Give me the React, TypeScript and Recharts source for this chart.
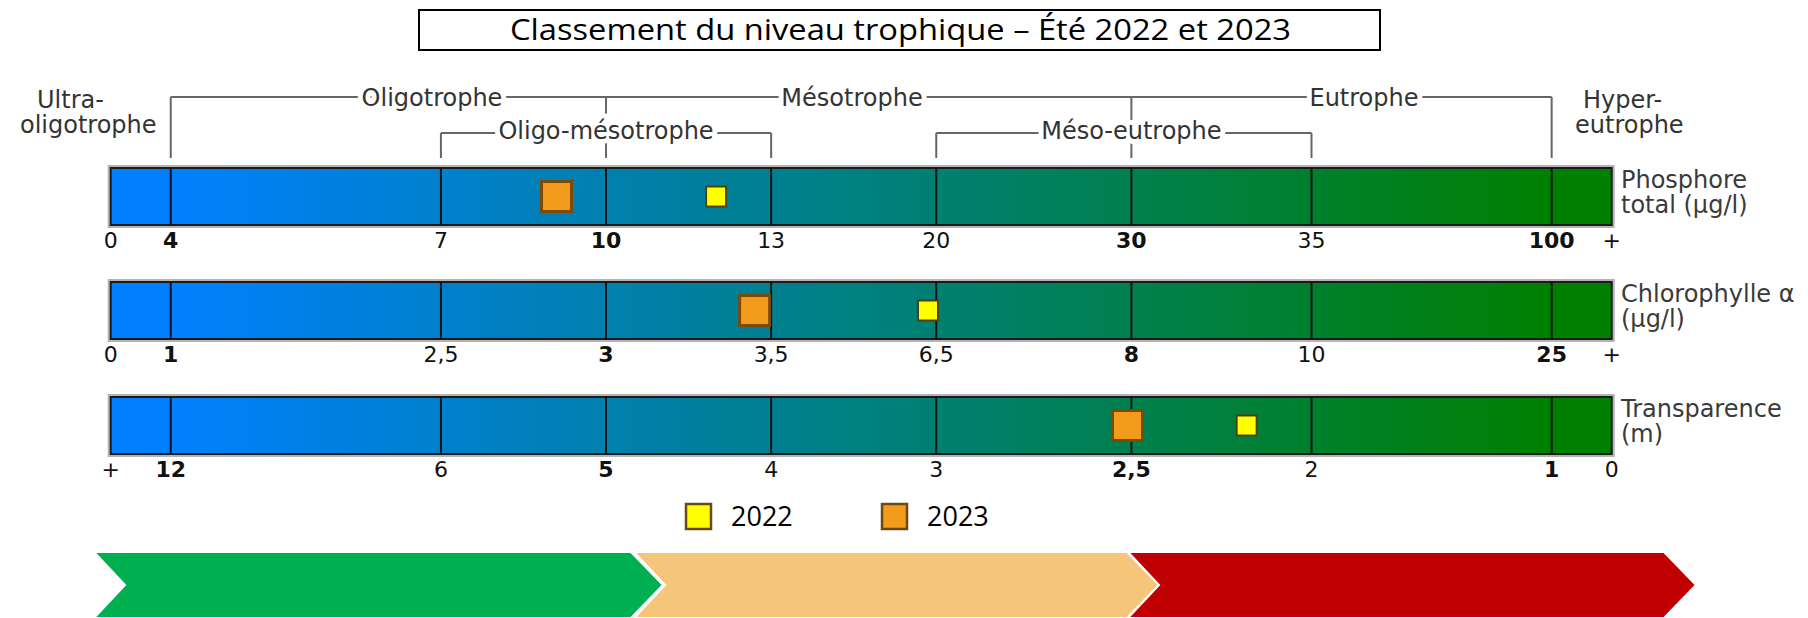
import { ScatterChart, Scatter, XAxis, YAxis, ReferenceArea, ReferenceLine } from 'recharts';

document.body.style.margin = '0';

// where each class limit sits along the bar (% of its length)
const classPos = [0, 4, 22, 33, 44, 55, 68, 80, 96, 100];

const rowTitles = [
  ['Phosphore', 'total (µg/l)'],
  ['Chlorophylle α', '(µg/l)'],
  ['Transparence', '(m)'],
];
const tickLabels = [
  ['0', '4', '7', '10', '13', '20', '30', '35', '100', '+'],
  ['0', '1', '2,5', '3', '3,5', '6,5', '8', '10', '25', '+'],
  ['+', '12', '6', '5', '4', '3', '2,5', '2', '1', '0'],
];
const limits = [
  [0, 4, 7, 10, 13, 20, 30, 35, 100, Infinity],
  [0, 1, 2.5, 3, 3.5, 6.5, 8, 10, 25, Infinity],
  [Infinity, 12, 6, 5, 4, 3, 2.5, 2, 1, 0],
];
const boldTicks = [1, 3, 6, 8];

const years = ['2022', '2023'];
const values2022 = [12, 6.35, 2.18];
const values2023 = [9.1, 3.45, 2.51];

const W = 1808;
const H = 618;
const BAR_LEFT = 110.7;
const BAR_RIGHT = 1611.7;
const BAR_H = 57;
const BAR_TOPS = [168, 282, 396.5];
const PAD = 4;
const AXIS_H = 34;

const yearStyle: Record<string, { size: number; fill: string; stroke: string; sw: number }> = {
  '2022': { size: 20, fill: '#ffff00', stroke: '#4b4210', sw: 2 },
  '2023': { size: 30, fill: '#f29b1d', stroke: '#7b4a06', sw: 3 },
};

const px = (pos: number) => BAR_LEFT + (pos / 100) * (BAR_RIGHT - BAR_LEFT);

// value -> position on the bar, linear inside each class
function toPos(v: number, lim: number[]) {
  for (let i = 0; i < lim.length - 1; i++) {
    const a = lim[i], b = lim[i + 1];
    if ((v - a) * (v - b) <= 0) {
      if (!isFinite(a) || !isFinite(b)) return (classPos[i] + classPos[i + 1]) / 2;
      return classPos[i] + ((v - a) / (b - a)) * (classPos[i + 1] - classPos[i]);
    }
  }
  return 0;
}

const square = (year: string) => (props: any) => {
  const s = yearStyle[year];
  return (
    <rect x={props.cx - s.size / 2} y={props.cy - s.size / 2} width={s.size} height={s.size}
      fill={s.fill} stroke={s.stroke} strokeWidth={s.sw} />
  );
};

function RowTick({ x, y, payload, row }: any) {
  const i = classPos.indexOf(payload.value);
  return (
    <text x={x} y={y + 15} textAnchor="middle" dominantBaseline="central" fontFamily="DejaVu Sans"
      fontSize={22} fontWeight={boldTicks.includes(i) ? 700 : 400} fill="#111">
      {tickLabels[row][i]}
    </text>
  );
}

function TrophicRow({ row }: { row: number }) {
  const gid = `grad-${row}`;
  const p2022 = [{ pos: toPos(values2022[row], limits[row]), y: 0 }];
  const p2023 = [{ pos: toPos(values2023[row], limits[row]), y: 0 }];
  return (
    <div style={{ position: 'absolute', left: 0, top: BAR_TOPS[row] - PAD }}>
      <ScatterChart width={W} height={PAD + BAR_H + AXIS_H}
        margin={{ top: PAD, right: W - BAR_RIGHT, bottom: 0, left: BAR_LEFT }}>
        <defs>
          <linearGradient id={gid} x1="0" y1="0" x2="1" y2="0">
            <stop offset="0.04" stopColor="#0080ff" />
            <stop offset="0.96" stopColor="#008000" />
          </linearGradient>
        </defs>
        <XAxis dataKey="pos" type="number" domain={[0, 100]} allowDataOverflow ticks={classPos} interval={0}
          axisLine={false} tickLine={false} tickSize={0} tickMargin={0} height={AXIS_H}
          tick={(p: any) => <RowTick {...p} row={row} />} />
        <YAxis dataKey="y" type="number" domain={[-1, 1]} allowDataOverflow hide />
        <ReferenceArea x1={0} x2={100} y1={-1} y2={1} fill="none" stroke="#b4b4b4" strokeWidth={6} />
        <ReferenceArea x1={0} x2={100} y1={-1} y2={1} fill={`url(#${gid})`} fillOpacity={1} stroke="#1b1b1b" strokeWidth={2} />
        {classPos.slice(1, -1).map((p) => (
          <ReferenceLine key={p} x={p} stroke="#111" strokeWidth={2} />
        ))}
        <Scatter name="2023" data={p2023} shape={square('2023')} isAnimationActive={false} />
        <Scatter name="2022" data={p2022} shape={square('2022')} isAnimationActive={false} />
      </ScatterChart>
    </div>
  );
}

const halo = { paintOrder: 'stroke', stroke: '#fff', strokeWidth: 10, strokeLinejoin: 'round' } as any;
const labelFont = { fontFamily: 'DejaVu Sans', fontSize: 24, fill: '#333' };

const chevrons = [
  { color: '#00b050', left: 94, right: 631 },
  { color: '#f5c57a', left: 634, right: 1127 },
  { color: '#c00000', left: 1128, right: 1664 },
];

export default function App() {
  const lineY = 97;
  const subY = 133;
  const tickEnd = 158;
  return (
    <div style={{ position: 'relative', width: W, height: H, overflow: 'hidden', background: '#fff' }}>
      {[0, 1, 2].map((r) => <TrophicRow key={r} row={r} />)}
      <svg width={W} height={H} style={{ position: 'absolute', left: 0, top: 0, pointerEvents: 'none' }}>
        {/* title */}
        <rect x={419} y={10} width={961} height={40} fill="#fff" stroke="#000" strokeWidth={2} />
        <text x={900.5} y={40} textAnchor="middle" fontFamily="Open Sans" fontSize={29} fill="#000"
          textLength={781} lengthAdjust="spacingAndGlyphs">
          Classement du niveau trophique – Été 2022 et 2023
        </text>

        {/* class brackets */}
        <g stroke="#666" strokeWidth={2} fill="none">
          <line x1={px(4)} y1={lineY} x2={px(96)} y2={lineY} />
          {[4, 33, 68, 96].map((p) => <line key={p} x1={px(p)} y1={lineY} x2={px(p)} y2={tickEnd} />)}
          <line x1={px(22)} y1={subY} x2={px(44)} y2={subY} />
          <line x1={px(55)} y1={subY} x2={px(80)} y2={subY} />
          {[22, 44, 55, 80].map((p) => <line key={p} x1={px(p)} y1={subY} x2={px(p)} y2={tickEnd} />)}
        </g>
        <g {...labelFont} textAnchor="middle" dominantBaseline="central">
          <text x={432} y={98} style={halo}>Oligotrophe</text>
          <text x={852} y={98} style={halo}>Mésotrophe</text>
          <text x={1364} y={98} style={halo}>Eutrophe</text>
          <text x={px(33)} y={131} style={halo}>Oligo-mésotrophe</text>
          <text x={px(68)} y={131} style={halo}>Méso-eutrophe</text>
        </g>
        <g {...labelFont}>
          <text x={37} y={108}>Ultra-</text>
          <text x={20} y={133}>oligotrophe</text>
          <text x={1583} y={108}>Hyper-</text>
          <text x={1575} y={133}>eutrophe</text>
        </g>

        {/* parameter names */}
        {rowTitles.map((t, r) => (
          <g key={r} {...labelFont} fill="#3a3a3a">
            <text x={1621} y={BAR_TOPS[r] + 20}>{t[0]}</text>
            <text x={1621} y={BAR_TOPS[r] + 45}>{t[1]}</text>
          </g>
        ))}

        {/* legend */}
        {years.map((y, i) => {
          const s = yearStyle[y];
          const x = 686 + i * 196;
          return (
            <g key={y}>
              <rect x={x} y={504} width={25} height={25} fill={s.fill} stroke="#6b4a12" strokeWidth={2.5} />
              <text x={x + 45} y={526} fontFamily="Open Sans" fontSize={27} fill="#000">{y}</text>
            </g>
          );
        })}

        {/* arrows */}
        {chevrons.map((c) => (
          <polygon key={c.color} fill={c.color} stroke="#fff" strokeWidth={2}
            points={`${c.left},552 ${c.right},552 ${c.right + 32},585 ${c.right},618 ${c.left},618 ${c.left + 31},585`} />
        ))}
      </svg>
    </div>
  );
}
